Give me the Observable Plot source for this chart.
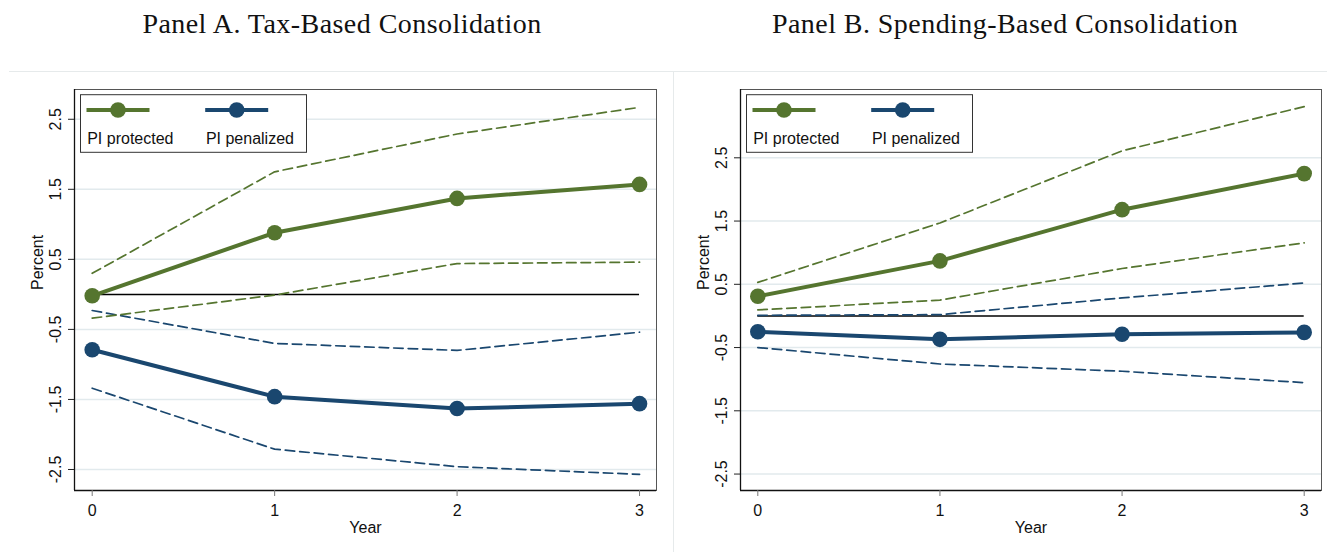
<!DOCTYPE html>
<html><head><meta charset="utf-8">
<script src="https://cdn.jsdelivr.net/npm/d3@7"></script>
<script src="https://cdn.jsdelivr.net/npm/@observablehq/plot@0.6"></script>
<style>
html,body{margin:0;padding:0;background:#fff;}
body{width:1327px;height:552px;position:relative;overflow:hidden;}
.pl{position:absolute;top:71px;}
.pl svg{display:block;}
#overlay{position:absolute;left:0;top:0;pointer-events:none;}
</style></head><body>
<script>
// ---------- data ----------
const years = [0, 1, 2, 3];
const seriesNames = ["PI protected", "PI penalized"];
const seriesColors = ["#55752f", "#1a476f"];
const yTicks = [-2.5, -1.5, -0.5, 0.5, 1.5, 2.5];
const panelTitles = ["Panel A. Tax-Based Consolidation", "Panel B. Spending-Based Consolidation"];
const xLabel = "Year";
const yLabel = "Percent";

// Panel A: tax-based
const taxProtectedEst = [-0.02, 0.88, 1.37, 1.57];
const taxProtectedHi  = [0.30, 1.75, 2.29, 2.67];
const taxProtectedLo  = [-0.34, -0.01, 0.44, 0.46];
const taxPenalizedEst = [-0.79, -1.46, -1.63, -1.56];
const taxPenalizedHi  = [-0.23, -0.70, -0.80, -0.54];
const taxPenalizedLo  = [-1.34, -2.21, -2.46, -2.57];

// Panel B: spending-based
const spendProtectedEst = [0.31, 0.87, 1.68, 2.25];
const spendProtectedHi  = [0.53, 1.47, 2.61, 3.31];
const spendProtectedLo  = [0.095, 0.25, 0.75, 1.155];
const spendPenalizedEst = [-0.25, -0.37, -0.29, -0.26];
const spendPenalizedHi  = [0.01, 0.02, 0.285, 0.52];
const spendPenalizedLo  = [-0.50, -0.76, -0.875, -1.055];

// ---------- layout ----------
const panels = [
  {title: panelTitles[0], titleX: 342, left: 0, width: 673, ml: 74, mr: 17,
   xDomain: [-0.097, 3.093], yDomain: [-2.80, 2.925],
   est: [taxProtectedEst, taxPenalizedEst], hi: [taxProtectedHi, taxPenalizedHi], lo: [taxProtectedLo, taxPenalizedLo]},
  {title: panelTitles[1], titleX: 1005, left: 674, width: 653, ml: 66, mr: 6,
   xDomain: [-0.095, 3.095], yDomain: [-2.76, 3.58],
   est: [spendProtectedEst, spendPenalizedEst], hi: [spendProtectedHi, spendPenalizedHi], lo: [spendProtectedLo, spendPenalizedLo]}
];
const H = 481, MT = 18, MB = 62;
const sans = '"Liberation Sans", Arial, Helvetica, sans-serif';

panels.forEach(p => {
  const rows = [];
  seriesNames.forEach((s, i) => years.forEach((yr, j) => rows.push({year: yr, series: s, est: p.est[i][j], hi: p.hi[i][j], lo: p.lo[i][j]})));
  const chart = Plot.plot({
    width: p.width, height: H,
    marginLeft: p.ml, marginRight: p.mr, marginTop: MT, marginBottom: MB,
    x: {domain: p.xDomain, label: null},
    y: {domain: p.yDomain, label: null},
    color: {domain: seriesNames, range: seriesColors},
    style: {fontFamily: sans, fontSize: "16px", color: "#111", background: "white", overflow: "visible"},
    marks: [
      Plot.gridY(yTicks, {stroke: "#e2eaed", strokeOpacity: 1, strokeWidth: 1.5}),
      Plot.frame({stroke: "#555", strokeWidth: 1}),
      Plot.ruleX([p.xDomain[0]], {stroke: "#111", strokeWidth: 1.3}),
      Plot.ruleY([p.yDomain[0]], {stroke: "#111", strokeWidth: 1.3}),
      Plot.axisY({ticks: yTicks, tickSize: 6, tickRotate: -90, tickPadding: 8, tickFormat: d => String(d), label: null, stroke: "#222"}),
      Plot.axisX({ticks: years, tickSize: 6, tickPadding: 8, tickFormat: d => String(d), label: null, stroke: "#777"}),
      Plot.text([xLabel], {text: d => d, frameAnchor: "bottom", dy: 42.5, lineAnchor: "bottom", fill: "#111"}),
      Plot.text([yLabel], {text: d => d, frameAnchor: "left", rotate: -90, dx: -32, lineAnchor: "bottom", fill: "#111"}),
      Plot.ruleY([0], {x1: years[0], x2: years[years.length - 1], stroke: "#000", strokeWidth: 1.5}),
      Plot.line(rows, {x: "year", y: "hi", z: "series", stroke: "series", strokeWidth: 1.7, strokeDasharray: "9.5,5"}),
      Plot.line(rows, {x: "year", y: "lo", z: "series", stroke: "series", strokeWidth: 1.7, strokeDasharray: "9.5,5"}),
      Plot.line(rows, {x: "year", y: "est", z: "series", stroke: "series", strokeWidth: 4}),
      Plot.dot(rows, {x: "year", y: "est", fill: "series", r: 7.8})
    ]
  });
  const div = document.createElement("div");
  div.className = "pl";
  div.style.left = p.left + "px";
  div.style.width = p.width + "px";
  div.appendChild(chart);
  document.body.appendChild(div);
});

// ---------- overlay: titles, separators, legends ----------
const ov = d3.create("svg").attr("id", "overlay").attr("width", 1327).attr("height", 552);
ov.append("line").attr("x1", 9).attr("x2", 1327).attr("y1", 71.5).attr("y2", 71.5).attr("stroke", "#e6eaeb").attr("stroke-width", 1);
ov.append("line").attr("x1", 673.5).attr("x2", 673.5).attr("y1", 71).attr("y2", 552).attr("stroke", "#e6eaeb").attr("stroke-width", 1);
panels.forEach(p => {
  ov.append("text").attr("x", p.titleX).attr("y", 33).attr("text-anchor", "middle")
    .attr("font-family", '"Liberation Serif", "Times New Roman", serif').attr("font-size", 28)
    .attr("letter-spacing", "0.45px").attr("fill", "#111").text(p.title);
  const bx = p.left + p.ml + 6.5, by = 94.7;
  const g = ov.append("g");
  g.append("rect").attr("x", bx).attr("y", by).attr("width", 226).attr("height", 57.6).attr("fill", "#fff").attr("stroke", "#333").attr("stroke-width", 1);
  seriesNames.forEach((s, i) => {
    const ox = bx + (i === 0 ? 6 : 124.7);
    g.append("line").attr("x1", ox).attr("x2", ox + 63).attr("y1", 110).attr("y2", 110).attr("stroke", seriesColors[i]).attr("stroke-width", 4);
    g.append("circle").attr("cx", ox + 31.5).attr("cy", 110).attr("r", 7.8).attr("fill", seriesColors[i]);
    g.append("text").attr("x", ox + 0.7).attr("y", 144).attr("font-family", sans).attr("font-size", 16).attr("fill", "#111").text(s);
  });
});
document.body.appendChild(ov.node());
</script>
</body></html>
